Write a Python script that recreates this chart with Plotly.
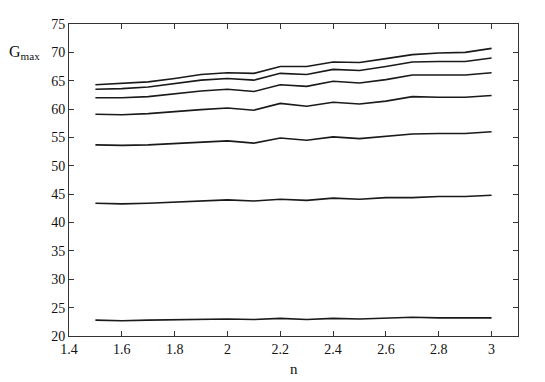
import plotly.graph_objects as go

# n values
n = [1.5, 1.6, 1.7, 1.8, 1.9, 2.0, 2.1, 2.2, 2.3, 2.4, 2.5, 2.6, 2.7, 2.8, 2.9, 3.0]

# G_max curves, top to bottom
g1 = [64.3, 64.5, 64.8, 65.4, 66.1, 66.4, 66.3, 67.5, 67.5, 68.3, 68.2, 68.9, 69.6, 69.9, 70.0, 70.7]
g2 = [63.5, 63.6, 63.9, 64.5, 65.1, 65.4, 65.1, 66.3, 66.1, 67.0, 66.8, 67.5, 68.3, 68.4, 68.4, 69.0]
g3 = [62.0, 62.0, 62.2, 62.7, 63.2, 63.5, 63.1, 64.3, 64.0, 64.9, 64.6, 65.2, 66.0, 66.0, 66.0, 66.4]
g4 = [59.1, 59.0, 59.2, 59.6, 59.9, 60.2, 59.8, 61.0, 60.5, 61.2, 60.9, 61.4, 62.2, 62.1, 62.1, 62.4]
g5 = [53.7, 53.6, 53.7, 53.9, 54.1, 54.4, 54.0, 54.9, 54.5, 55.1, 54.8, 55.2, 55.6, 55.7, 55.7, 56.0]
g6 = [43.4, 43.3, 43.4, 43.6, 43.8, 44.0, 43.8, 44.1, 43.9, 44.3, 44.1, 44.4, 44.4, 44.6, 44.6, 44.8]
g7 = [22.8, 22.7, 22.8, 22.9, 23.0, 23.0, 22.9, 23.1, 22.9, 23.1, 23.0, 23.1, 23.3, 23.2, 23.2, 23.2]

x_ticks = [1.4, 1.6, 1.8, 2.0, 2.2, 2.4, 2.6, 2.8, 3.0]
x_labels = ["1.4", "1.6", "1.8", "2", "2.2", "2.4", "2.6", "2.8", "3"]
y_ticks = [20, 25, 30, 35, 40, 45, 50, 55, 60, 65, 70, 75]

fig = go.Figure()
for g in [g1, g2, g3, g4, g5, g6, g7]:
    fig.add_trace(go.Scatter(x=n, y=g, mode="lines",
                             line=dict(color="#1a1a1a", width=1.6),
                             showlegend=False, hoverinfo="skip"))

axis_style = dict(showline=True, linecolor="#333", linewidth=1, mirror="ticks",
                  ticks="inside", ticklen=5, tickcolor="#333",
                  showgrid=False, zeroline=False)

fig.update_xaxes(range=[1.4, 3.1], tickvals=x_ticks, ticktext=x_labels, **axis_style)
fig.update_yaxes(range=[20, 75], tickvals=y_ticks, **axis_style)

fig.add_annotation(text="n", xref="paper", yref="paper", x=0.502, y=-0.107,
                   xanchor="center", yanchor="middle", showarrow=False,
                   font=dict(size=15))
fig.add_annotation(text="G<sub>max</sub>", xref="paper", yref="y", x=-0.06, y=70,
                   xanchor="right", yanchor="middle", showarrow=False,
                   font=dict(size=16))

# page body has an 8px margin, so the figure is shrunk to fit the window
fig.update_layout(
    width=537, height=374,
    margin=dict(l=61, r=27, t=9, b=46),
    plot_bgcolor="white", paper_bgcolor="white",
    font=dict(family="Times New Roman, Liberation Serif, serif", size=14, color="#111"),
)

fig.write_html("out.html")
